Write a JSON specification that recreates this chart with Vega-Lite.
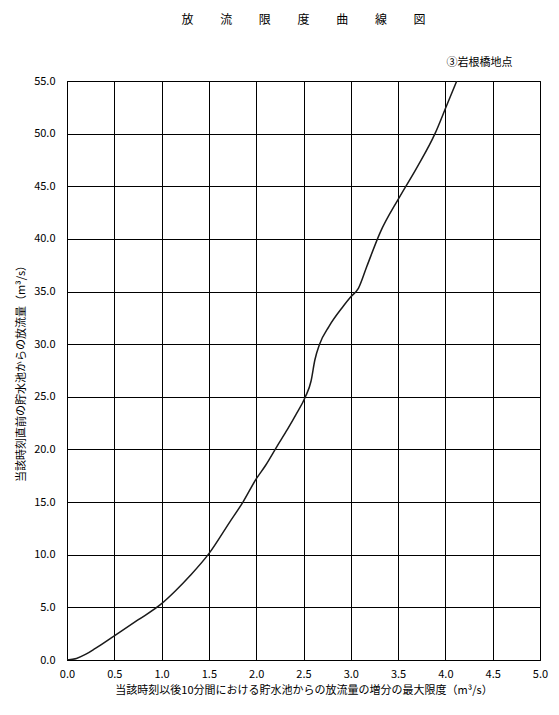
{
  "$schema": "https://vega.github.io/schema/vega-lite/v6.json",
  "width": 473,
  "height": 579,
  "autosize": {"type": "none"},
  "padding": {"left": 67, "top": 81, "right": 19, "bottom": 55},
  "background": "white",
  "title": {
    "text": "放　　   流　　   限　　   度　　   曲　　   線　　   図",
    "font": "Noto Sans CJK JP",
    "fontSize": 12,
    "fontWeight": "normal",
    "color": "black",
    "anchor": "middle",
    "baseline": "bottom",
    "offset": 18
  },
  "config": {
    "view": {"stroke": "black", "strokeWidth": 1},
    "font": "Noto Sans CJK JP",
    "axis": {
      "grid": true,
      "gridColor": "black",
      "gridOpacity": 1,
      "gridWidth": 1,
      "domainColor": "black",
      "domainWidth": 1,
      "ticks": false,
      "labelFlush": false,
      "labelFont": "Noto Sans CJK JP",
      "labelFontSize": 11,
      "labelColor": "black",
      "titleFont": "Noto Sans CJK JP",
      "titleFontSize": 11,
      "titleFontWeight": "normal",
      "titleColor": "black"
    }
  },
  "layer": [
    {
      "data": {
        "values": [
          {"inc": 0.0, "flow": 0.0},
          {"inc": 0.1, "flow": 0.15},
          {"inc": 0.2, "flow": 0.55},
          {"inc": 0.3, "flow": 1.1},
          {"inc": 0.5, "flow": 2.3},
          {"inc": 0.75, "flow": 3.8},
          {"inc": 1.0, "flow": 5.35},
          {"inc": 1.15, "flow": 6.6},
          {"inc": 1.3, "flow": 8.0},
          {"inc": 1.5, "flow": 10.1},
          {"inc": 1.72, "flow": 13.1},
          {"inc": 1.86, "flow": 15.0},
          {"inc": 2.0, "flow": 17.2},
          {"inc": 2.1, "flow": 18.5},
          {"inc": 2.22, "flow": 20.3},
          {"inc": 2.33, "flow": 21.9},
          {"inc": 2.42, "flow": 23.3},
          {"inc": 2.52, "flow": 25.0},
          {"inc": 2.58, "flow": 26.5},
          {"inc": 2.62, "flow": 28.5},
          {"inc": 2.67, "flow": 30.0},
          {"inc": 2.77, "flow": 31.7},
          {"inc": 2.92, "flow": 33.6},
          {"inc": 3.0, "flow": 34.5},
          {"inc": 3.08, "flow": 35.3},
          {"inc": 3.17, "flow": 37.4},
          {"inc": 3.31, "flow": 40.6},
          {"inc": 3.51, "flow": 43.9},
          {"inc": 3.7, "flow": 46.8},
          {"inc": 3.89, "flow": 50.0},
          {"inc": 4.01, "flow": 52.6},
          {"inc": 4.12, "flow": 55.0}
        ]
      },
      "mark": {"type": "line", "color": "#1a1a1a", "strokeWidth": 1.5, "interpolate": "monotone", "clip": true},
      "encoding": {
        "x": {
          "field": "inc",
          "type": "quantitative",
          "scale": {"domain": [0, 5], "nice": false, "zero": false},
          "axis": {
            "values": [0, 0.5, 1, 1.5, 2, 2.5, 3, 3.5, 4, 4.5, 5],
            "format": ".1f",
            "labelPadding": 8,
            "titlePadding": 5,
            "title": "当該時刻以後10分間における貯水池からの放流量の増分の最大限度（m³/s）"
          }
        },
        "y": {
          "field": "flow",
          "type": "quantitative",
          "scale": {"domain": [0, 55], "nice": false},
          "axis": {
            "values": [0, 5, 10, 15, 20, 25, 30, 35, 40, 45, 50, 55],
            "format": ".1f",
            "labelPadding": 12,
            "titlePadding": 7,
            "title": "当該時刻直前の貯水池からの放流量（m³/s）"
          }
        }
      }
    },
    {
      "data": {"values": [{"label": "③岩根橋地点"}]},
      "mark": {"type": "text", "fontSize": 11, "font": "Noto Sans CJK JP", "color": "black", "align": "center", "baseline": "middle", "dy": -18},
      "encoding": {
        "text": {"field": "label"},
        "x": {"datum": 4.36, "type": "quantitative"},
        "y": {"datum": 55, "type": "quantitative"}
      }
    }
  ]
}
